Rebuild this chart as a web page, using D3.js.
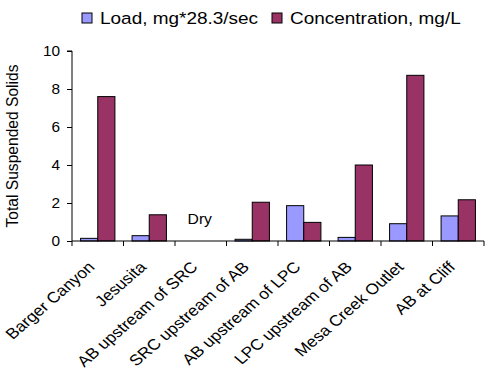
<!DOCTYPE html>
<html>
<head>
<meta charset="utf-8">
<script src="https://cdn.jsdelivr.net/npm/d3@7/dist/d3.min.js"></script>
<style>
  html, body { margin: 0; padding: 0; background: #fff; }
  svg { display: block; font-family: "Liberation Sans", Arial, sans-serif; }
</style>
</head>
<body>
<svg id="chart" width="485" height="375"></svg>
<script>
// Total suspended solids by sampling site
const sites = [
  "Barger Canyon", "Jesusita", "AB upstream of SRC", "SRC upstream of AB",
  "AB upstream of LPC", "LPC upstream of AB", "Mesa Creek Outlet", "AB at Cliff"
];
const loadValues = [0.14, 0.28, null, 0.09, 1.86, 0.19, 0.91, 1.32];
const concValues = [7.6, 1.38, null, 2.04, 0.98, 4.0, 8.72, 2.17];
const seriesNames = ["Load, mg*28.3/sec", "Concentration, mg/L"];
const seriesColors = ["#9999FF", "#993366"];
const yTicks = [0, 2, 4, 6, 8, 10];
const dryNote = "Dry";

const svg = d3.select("#chart");
const margin = { left: 72, right: 1, top: 51, bottom: 134 };
const W = 485, H = 375;
const FONT = "Liberation Sans, Arial, sans-serif";
const stretch = 1.15; // text is set slightly wide

const x = d3.scaleBand().domain(sites).range([margin.left, W - margin.right]).paddingInner(0).paddingOuter(0);
const inner = d3.scaleBand().domain([0, 1]).range([0, x.bandwidth()]).paddingInner(0).paddingOuter(0.5);
const y = d3.scaleLinear().domain([0, 10]).range([H - margin.bottom, margin.top]);

// Bars
const series = [loadValues, concValues];
series.forEach((vals, si) => {
  svg.append("g").selectAll("rect")
    .data(sites.map((s, i) => ({ site: s, v: vals[i] })).filter(d => d.v != null))
    .join("rect")
    .attr("x", d => x(d.site) + inner(si))
    .attr("width", inner.bandwidth())
    .attr("y", d => y(d.v))
    .attr("height", d => y(0) - y(d.v))
    .attr("fill", seriesColors[si])
    .attr("stroke", "#000")
    .attr("stroke-width", 1);
});

// Y axis
const yAxis = svg.append("g")
  .attr("transform", `translate(${margin.left},0)`)
  .call(d3.axisLeft(y).tickValues(yTicks).tickSize(5).tickPadding(7));
yAxis.select(".domain").attr("stroke", "#000").attr("d", `M-5,${y(10)}H0V${y(0)}`);
yAxis.selectAll(".tick line").attr("stroke", "#000");
yAxis.selectAll(".tick text")
  .attr("font-size", 14).attr("fill", "#000").attr("font-family", FONT)
  .attr("transform", function () {
    const tx = +d3.select(this).attr("x");
    return `translate(${tx},0) scale(1.1,1) translate(${-tx},0)`;
  });

// X axis with ticks at category boundaries
const xg = svg.append("g").attr("transform", `translate(0,${y(0)})`);
xg.append("line").attr("x1", margin.left).attr("x2", W - margin.right).attr("stroke", "#000");
const bounds = sites.map(s => x(s)).concat([x(sites[sites.length - 1]) + x.bandwidth()]);
xg.selectAll("line.tk").data(bounds).join("line").attr("class", "tk")
  .attr("x1", d => d).attr("x2", d => d).attr("y1", 0).attr("y2", 5).attr("stroke", "#000");

xg.selectAll("text").data(sites).join("text")
  .attr("transform", d => `translate(${x(d) + x.bandwidth() / 2 - 2},27) scale(${stretch},1) rotate(-45)`)
  .attr("text-anchor", "end")
  .attr("font-size", 15.2)
  .attr("fill", "#000")
  .text(d => d);

// Note for the dry site
svg.append("text")
  .attr("transform", `translate(${x(sites[2]) + x.bandwidth() / 2 - 1},223.5) scale(1.08,1)`)
  .attr("text-anchor", "middle")
  .attr("font-size", 14.5)
  .text(dryNote);

// Y axis title
svg.append("text")
  .attr("transform", `translate(18,${(y(0) + y(10)) / 2}) rotate(-90)`)
  .attr("text-anchor", "middle")
  .attr("font-size", 15.6)
  .text("Total Suspended Solids");

// Legend
const legend = svg.append("g");
const legendX = [82, 272];
seriesNames.forEach((name, i) => {
  legend.append("rect")
    .attr("x", legendX[i]).attr("y", 13)
    .attr("width", 10).attr("height", 10)
    .attr("fill", seriesColors[i]).attr("stroke", "#000");
  legend.append("text")
    .attr("transform", `translate(${legendX[i] + 18},24.4) scale(1.15,1)`)
    .attr("font-size", 16.5)
    .text(name);
});
</script>
</body>
</html>
